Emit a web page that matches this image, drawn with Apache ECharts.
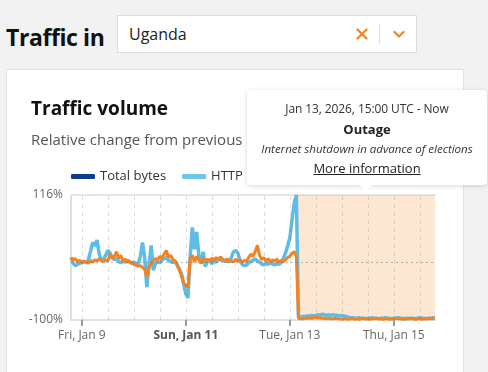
<!DOCTYPE html>
<html><head><meta charset="utf-8">
<script src="https://cdn.jsdelivr.net/npm/echarts@6/dist/echarts.min.js"></script>
<style>
html,body{margin:0;padding:0;width:488px;height:372px;overflow:hidden;background:#f2f2f2;font-family:"Open Sans","Noto Sans",sans-serif;}
#hdr{position:absolute;left:6px;top:20px;font-size:23px;font-weight:700;color:#111;line-height:34px;letter-spacing:-0.4px;}
#sel{position:absolute;left:117px;top:15px;width:300px;height:38px;background:#fff;border:1px solid #dcdcdc;box-sizing:border-box;}
#sel .v{position:absolute;left:11px;top:0;line-height:36px;font-size:16px;color:#222;}
#sel .sep{position:absolute;left:261px;top:8px;width:1px;height:20px;background:#dddddd;}
#sel svg{position:absolute;}
#card{position:absolute;left:6px;top:69px;width:458px;height:320px;background:#fff;border:1px solid #e2e2e2;box-sizing:border-box;}
#chart{position:absolute;left:0;top:0;width:488px;height:372px;}
#tip{position:absolute;left:247px;top:90px;width:240px;height:95px;background:#fff;border-radius:4px;box-shadow:0 1px 5px rgba(0,0,0,0.16);text-align:center;color:#333;z-index:5;}
#tip:after{content:"";position:absolute;left:113px;bottom:-6px;border-left:6px solid transparent;border-right:6px solid transparent;border-top:6px solid #fff;}
#tip .d{position:absolute;left:0;right:0;top:11px;font-size:12px;line-height:16px;letter-spacing:-0.1px;}
#tip .t{position:absolute;left:0;right:0;top:30px;font-size:13px;font-weight:700;line-height:18px;color:#222;}
#tip .i{position:absolute;left:0;right:0;top:51px;font-size:11.5px;font-style:italic;line-height:16px;}
#tip .m{position:absolute;left:0;right:0;top:69px;font-size:13px;line-height:18px;text-decoration:underline;color:#222;}
</style></head>
<body>
<div id="hdr">Traffic in</div>
<div id="sel"><span class="v">Uganda</span>
<svg style="left:238px;top:12px" width="12" height="12" viewBox="0 0 12 12"><path d="M1.5 1.5L10.5 10.5M10.5 1.5L1.5 10.5" stroke="#f6821f" stroke-width="2.2" stroke-linecap="round"/></svg>
<div class="sep"></div>
<svg style="left:275px;top:14px" width="12" height="9" viewBox="0 0 12 9"><path d="M1.5 2L6 6.5L10.5 2" stroke="#f6821f" stroke-width="2.2" fill="none" stroke-linecap="round" stroke-linejoin="round"/></svg>
</div>
<div id="card"></div>
<div id="chart"></div>
<div id="tip">
<div class="d">Jan 13, 2026, 15:00 UTC - Now</div>
<div class="t">Outage</div>
<div class="i">Internet shutdown in advance of elections</div>
<div class="m">More information</div>
</div>
<script>
// hours relative to Fri, Jan 9 00:00 (axis time)
var startHour = -5;
var endHour = 163;
var tickHours = [0, 48, 96, 144];
var tickLabels = ['Fri, Jan 9', 'Sun, Jan 11', 'Tue, Jan 13', 'Thu, Jan 15'];
var boldTickLabels = ['Sun, Jan 11'];
var gridHours = [0, 12, 24, 36, 48, 60, 72, 84, 96, 108, 120, 132, 144, 156];
var yMin = -100, yMax = 116;
var yZero = 0;
var outageStart = 99.7, outageEnd = 163;
var legendNames = ['Total bytes', 'HTTP', 'DNS queries'];

var totalBytes = [];
var http = [
  8, -2, -6, -4, -2,
  -1, 1, -1, 4, 18, 34, 28, 38, 14, 2, 5, 12, 20, 16, 8, 4, 6, 1, -1, 2, 0, 3, 1, -2,
  0, -3, -4, 10, 34, 8, -43, -5, 29, -14, -2, 1, -1, 4, 6, 8, 3, 1, -1, 2, -4, -12, -20, -38,
  -55, -62, 10, 60, 22, 52, 12, -2, 18, -8, 2, 4, -3, 2, 0, 6, 3, 5, 1, 3, 0, 8, 18, 20,
  16, 2, -4, -6, -5, -1, 1, 3, 6, 2, 0, -3, -5, -2, -4, -1, -3, -5, -2, -4, -1, 6, 16, 28,
  42, 72, 102, 116,
  -95, -95, -94, -94, -93, -93, -92, -93, -92, -91, -92, -90, -91, -92, -91, -92, -91, -92, -92, -93,
  -92, -93, -94, -95, -96, -96, -97, -97, -96, -97, -97, -98, -97, -97, -96, -97, -97, -98, -97, -97,
  -96, -97, -97, -98, -97, -97, -96, -97, -97, -98, -97, -98, -97, -97, -98, -97, -96, -97, -97, -98,
  -97, -97, -96, -97
];
var dns = [
  8, 4, 6, 1, 3,
  -1, 2, 0, -2, 3, 0, 4, 2, 6, 3, 1, 4, 2, 14, 6, 10, 18, 6, 12, 2, 5, 0, 2, -2,
  -4, -5, -7, -6, -9, -12, -26, -10, -2, 3, 6, 4, 10, 7, 14, 20, 8, 12, 5, 2, -6, -14, -24, -36,
  -40, -44, 6, 12, 0, 10, 4, -2, 6, 2, 5, 1, 7, 3, 8, 4, 9, 5, 2, 6, 1, 3, 0, 5,
  2, 4, 0, 3, 1, 8, 14, 10, 18, 29, 12, 4, 8, 2, 6, 0, 4, 2, 5, 0, 3, 1, 4, 8,
  10, 15, 18, 10,
  -97, -98, -98, -97, -97, -96, -97, -96, -95, -96, -96, -97, -97, -98, -97, -98, -98, -97, -98, -98,
  -99, -98, -98, -99, -98, -98, -99, -98, -99, -98, -97, -98, -98, -99, -98, -98, -97, -98, -98, -99,
  -98, -98, -99, -98, -98, -97, -98, -98, -99, -98, -98, -97, -98, -98, -99, -98, -98, -99, -98, -98,
  -97, -98, -98, -98
];

function pairs(arr) {
  return arr.map(function (v, i) { return [startHour + i, v]; });
}

var FONT = '"Open Sans","Noto Sans",sans-serif';
var chart = echarts.init(document.getElementById('chart'), null, {renderer: 'canvas'});
chart.setOption({
  animation: false,
  backgroundColor: 'transparent',
  textStyle: {fontFamily: FONT},
  title: {
    text: 'Traffic volume',
    subtext: 'Relative change from previous period',
    left: 31, top: 100, padding: 0, itemGap: 14,
    textStyle: {fontSize: 19, fontWeight: 'bold', color: '#111', fontFamily: FONT},
    subtextStyle: {fontSize: 15, color: '#555', fontFamily: FONT}
  },
  legend: {
    data: legendNames,
    left: 71, top: 170, padding: 0,
    icon: 'roundRect', itemWidth: 24, itemHeight: 5, itemGap: 16,
    textStyle: {fontSize: 13, color: '#333', fontFamily: FONT}
  },
  grid: {left: 71, top: 195, width: 364, height: 125, containLabel: false},
  xAxis: [{
    type: 'value', min: startHour, max: endHour,
    axisLine: {show: true, onZero: false, lineStyle: {color: '#e0e0e0', width: 2}},
    axisTick: {show: true, customValues: tickHours, length: 6, lineStyle: {color: '#999', width: 2}},
    axisLabel: {
      customValues: tickHours, margin: 10, fontSize: 12, color: '#666', fontFamily: FONT,
      formatter: function (v) {
        var i = tickHours.indexOf(v);
        if (i < 0) return '';
        var s = tickLabels[i];
        return boldTickLabels.indexOf(s) >= 0 ? '{b|' + s + '}' : s;
      },
      rich: {b: {fontWeight: 'bold', fontSize: 12, color: '#555', fontFamily: FONT}}
    },
    splitLine: {show: false}
  }, {
    type: 'value', min: startHour, max: endHour, position: 'top',
    axisLine: {show: true, onZero: false, lineStyle: {color: '#e6e6e6', width: 2}},
    axisTick: {show: false},
    axisLabel: {show: false},
    splitLine: {show: false}
  }],
  yAxis: {
    type: 'value', min: yMin, max: yMax,
    axisLine: {show: true, onZero: false, lineStyle: {color: '#e0e0e0', width: 2}},
    axisTick: {show: false},
    axisLabel: {customValues: [yMin, yMax], margin: 8, fontSize: 12, color: '#666', fontFamily: FONT,
      formatter: function (v) { return v + '%'; }},
    splitLine: {show: false}
  },
  series: [{
    name: 'Outage', type: 'line', data: [], silent: true,
    markArea: {silent: true, itemStyle: {color: 'rgba(246,130,31,0.2)'},
      data: [[{xAxis: outageStart}, {xAxis: outageEnd}]]}
  }, {
    name: 'Grid', type: 'line', data: [], silent: true,
    markLine: {silent: true, symbol: ['none', 'none'], label: {show: false},
      lineStyle: {color: 'rgba(100,100,100,0.22)', type: [4, 4], width: 1},
      data: gridHours.map(function (h) { return {xAxis: h}; }).concat([
        {yAxis: yZero, lineStyle: {color: 'rgba(100,100,100,0.45)', type: [2, 3], width: 1}}
      ])}
  }, {
    name: 'Total bytes', type: 'line', data: totalBytes, showSymbol: false,
    itemStyle: {color: '#0b3d91'}, lineStyle: {color: '#0b3d91', width: 3}
  }, {
    name: 'HTTP', type: 'line', data: pairs(http), showSymbol: false,
    itemStyle: {color: '#6cc6ea'}, lineStyle: {color: '#5dbde4', width: 3.5}
  }, {
    name: 'DNS queries', type: 'line', data: pairs(dns), showSymbol: false,
    itemStyle: {color: '#f6821f'}, lineStyle: {color: '#f6821f', width: 3}
  }]
});
</script>
</body></html>
